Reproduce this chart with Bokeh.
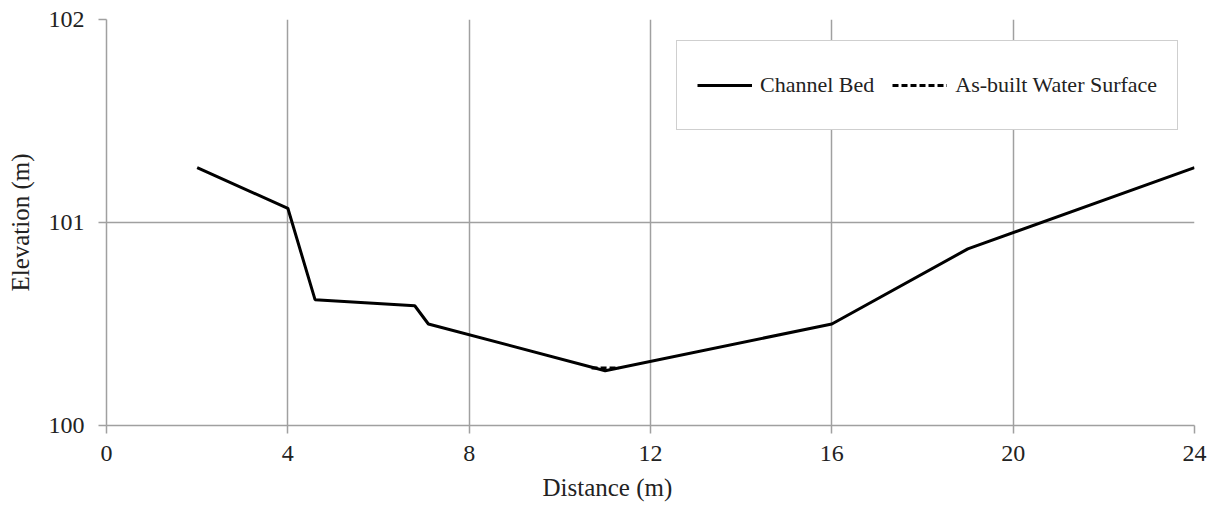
from bokeh.plotting import figure
from bokeh.models import FixedTicker, Range1d, Legend, LegendItem, Title
from bokeh.embed import file_html
from bokeh.resources import INLINE

# Channel bed profile
bed_x = [2.0, 4.0, 4.6, 6.8, 7.1, 11.0, 16.0, 19.0, 24.0]
bed_y = [101.27, 101.07, 100.62, 100.59, 100.50, 100.27, 100.50, 100.87, 101.27]

# As-built water surface
ws_x = [10.7, 11.3]
ws_y = [100.283, 100.283]

x_ticks = [0, 4, 8, 12, 16, 20, 24]
y_ticks = [100, 101, 102]

FONT = "Liberation Serif"
GRID = "#a0a0a0"
TXT = "#222222"

p = figure(width=1209, height=508, output_backend="svg", toolbar_location=None,
           x_range=Range1d(0, 24), y_range=Range1d(100, 102),
           min_border_left=106, min_border_right=15, min_border_top=19,
           min_border_bottom=83)
p.outline_line_color = None
p.background_fill_color = "white"
p.border_fill_color = "white"

bed = p.line(bed_x, bed_y, line_color="black", line_width=3)
ws = p.line(ws_x, ws_y, line_color="black", line_width=3, line_dash="6 3")

for ax in (p.xaxis[0], p.yaxis[0]):
    ax.axis_line_color = GRID
    ax.axis_line_width = 1.5
    ax.major_tick_line_color = GRID
    ax.major_tick_line_width = 1.5
    ax.minor_tick_line_color = None
    ax.major_tick_in = 0
    ax.major_tick_out = 8
    ax.major_label_text_font = FONT
    ax.major_label_text_font_size = "24px"
    ax.major_label_text_color = TXT
    ax.axis_label_text_font = FONT
    ax.axis_label_text_font_size = "25px"
    ax.axis_label_text_font_style = "normal"
    ax.axis_label_text_color = TXT

p.xaxis[0].ticker = FixedTicker(ticks=x_ticks)
p.yaxis[0].ticker = FixedTicker(ticks=y_ticks)
p.yaxis[0].axis_label = "Elevation (m)"
p.xaxis[0].major_label_standoff = 12
p.yaxis[0].major_label_standoff = 14
p.yaxis[0].axis_label_standoff = 12

# x-axis title, placed slightly left of centre as in the reference
xtitle = Title(text="Distance (m)", align="left", offset=436, standoff=16,
               text_font=FONT, text_font_size="25px", text_font_style="normal",
               text_color=TXT)
p.add_layout(xtitle, "below")

p.xgrid.ticker = FixedTicker(ticks=x_ticks)
p.ygrid.ticker = FixedTicker(ticks=y_ticks)
p.grid.grid_line_color = GRID
p.grid.grid_line_width = 1.5

legend = Legend(items=[LegendItem(label="Channel Bed", renderers=[bed]),
                       LegendItem(label="As-built Water Surface", renderers=[ws])],
                orientation="horizontal", location=(570, 295))
legend.label_text_font = FONT
legend.label_text_font_size = "22px"
legend.label_text_color = TXT
legend.padding = 20
legend.spacing = 18
legend.label_standoff = 8
legend.glyph_width = 55
legend.glyph_height = 20
legend.label_height = 48
legend.border_line_color = GRID
legend.border_line_width = 1.5
legend.background_fill_alpha = 1.0
legend.margin = 0
p.add_layout(legend)

open("out.html", "w").write(file_html(p, INLINE))
